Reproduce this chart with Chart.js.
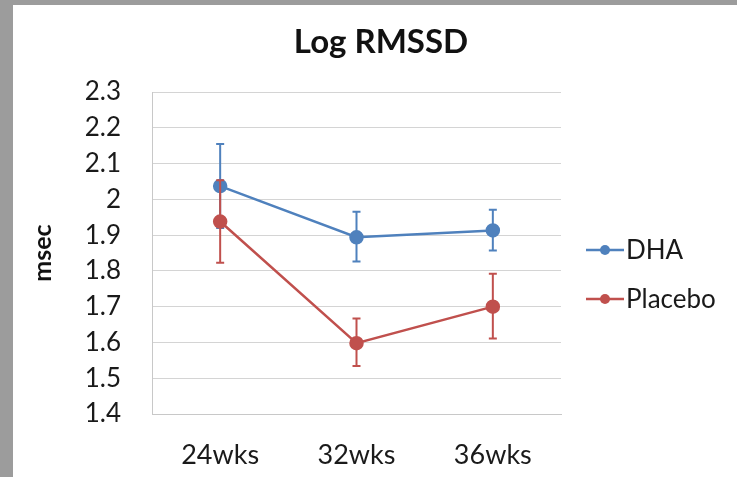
<!DOCTYPE html>
<html>
<head>
<meta charset="utf-8">
<script src="https://cdn.jsdelivr.net/npm/chart.js@4.4.1/dist/chart.umd.min.js"></script>
<style>
    html, body { margin: 0; padding: 0; }
    body { width: 737px; height: 477px; background: #9c9c9c; position: relative; overflow: hidden; }
    #panel { position: absolute; left: 13px; top: 5px; right: 0; bottom: 0; background: #fff; }
    #wrap { position: absolute; left: 0; top: 0; width: 737px; height: 477px; }
</style>
</head>
<body>
<div id="panel"></div>
<div id="wrap"><canvas id="lineChart" width="737" height="477"></canvas></div>
<script>
const categories = ['24wks', '32wks', '36wks'];
const dhaValues = [2.037, 1.894, 1.913];
const dhaUpper = [2.155, 1.965, 1.971];
const dhaLower = [1.920, 1.826, 1.857];
const placeboValues = [1.938, 1.598, 1.700];
const placeboUpper = [2.053, 1.667, 1.792];
const placeboLower = [1.823, 1.534, 1.611];

const BLUE = '#4f81bd';
const RED = '#c0504d';
const FONT = 'Lato, "Open Sans", sans-serif';

// error bars, drawn under each series' line and markers
const errorBars = {
    id: 'errorBars',
    beforeDatasetDraw(chart, args) {
        const ds = chart.data.datasets[args.index];
        if (!ds.upper) return;
        const ctx = chart.ctx;
        const x = chart.scales.x;
        const y = chart.scales.y;
        ctx.save();
        ctx.strokeStyle = ds.borderColor;
        ctx.lineWidth = 2;
        ds.data.forEach((v, i) => {
            let px = x.getPixelForValue(i);
            let top = y.getPixelForValue(ds.upper[i]);
            let bot = y.getPixelForValue(ds.lower[i]);
            ctx.beginPath();
            ctx.moveTo(px, top); ctx.lineTo(px, bot);
            ctx.moveTo(px - 4, top); ctx.lineTo(px + 4, top);
            ctx.moveTo(px - 4, bot); ctx.lineTo(px + 4, bot);
            ctx.stroke();
        });
        ctx.restore();
    }
};

// title centred over the whole panel, not the plot
const panelTitle = {
    id: 'panelTitle',
    afterDraw(chart) {
        const ctx = chart.ctx;
        ctx.save();
        ctx.fillStyle = '#111';
        ctx.font = 'bold 33px ' + FONT;
        ctx.textAlign = 'center';
        ctx.textBaseline = 'alphabetic';
        ctx.fillText('Log RMSSD', 381, 53);
        ctx.restore();
    }
};

// legend with line + marker, like the office style
const sideLegend = {
    id: 'sideLegend',
    afterDraw(chart) {
        const ctx = chart.ctx;
        let items = [
            {label: 'DHA', color: BLUE, y: 250},
            {label: 'Placebo', color: RED, y: 299}
        ];
        ctx.save();
        items.forEach(item => {
            ctx.strokeStyle = item.color;
            ctx.lineWidth = 2.5;
            ctx.beginPath();
            ctx.moveTo(586, item.y); ctx.lineTo(624, item.y);
            ctx.stroke();
            ctx.fillStyle = item.color;
            ctx.beginPath();
            ctx.arc(605, item.y, 5, 0, Math.PI * 2);
            ctx.fill();
            ctx.fillStyle = '#1a1a1a';
            ctx.font = '26px ' + FONT;
            ctx.textBaseline = 'middle';
            ctx.fillText(item.label, 626, item.y + 1);
        });
        ctx.restore();
    }
};

let ctx = document.getElementById('lineChart').getContext('2d');

new Chart(ctx, {
    type: 'line',
    data: {
        labels: categories,
        datasets: [
            {
                label: 'DHA',
                data: dhaValues,
                upper: dhaUpper,
                lower: dhaLower,
                borderColor: BLUE,
                backgroundColor: BLUE,
                borderWidth: 2.5,
                pointRadius: 6,
                pointHoverRadius: 6,
                order: 1
            },
            {
                label: 'Placebo',
                data: placeboValues,
                upper: placeboUpper,
                lower: placeboLower,
                borderColor: RED,
                backgroundColor: RED,
                borderWidth: 2.5,
                pointRadius: 6,
                pointHoverRadius: 6,
                order: 0
            }
        ]
    },
    options: {
        responsive: false,
        animation: false,
        layout: {
            padding: {left: 26, right: 176, top: 92, bottom: 0}
        },
        plugins: {
            legend: {display: false},
            tooltip: {enabled: false},
            title: {display: false}
        },
        scales: {
            x: {
                offset: true,
                grid: {display: false, drawTicks: false},
                border: {color: '#c8c8c8', width: 1},
                ticks: {color: '#1a1a1a', font: {family: FONT, size: 27}, padding: 25, maxRotation: 0},
                afterFit(scale) { scale.height = 63; }
            },
            y: {
                min: 1.4,
                max: 2.3,
                ticks: {
                    stepSize: 0.1,
                    color: '#1a1a1a',
                    font: {family: FONT, size: 26},
                    padding: 31,
                    callback: v => Math.round(v * 10) / 10
                },
                grid: {color: '#d4d4d4', lineWidth: 1, drawTicks: false},
                border: {color: '#c8c8c8', width: 1},
                title: {
                    display: true,
                    text: 'msec',
                    color: '#111',
                    font: {family: FONT, size: 25, weight: 'bold'},
                    padding: {top: 2, bottom: 0}
                },
                afterFit(scale) { scale.width = 126; }
            }
        }
    },
    plugins: [errorBars, panelTitle, sideLegend]
});
</script>
</body>
</html>
